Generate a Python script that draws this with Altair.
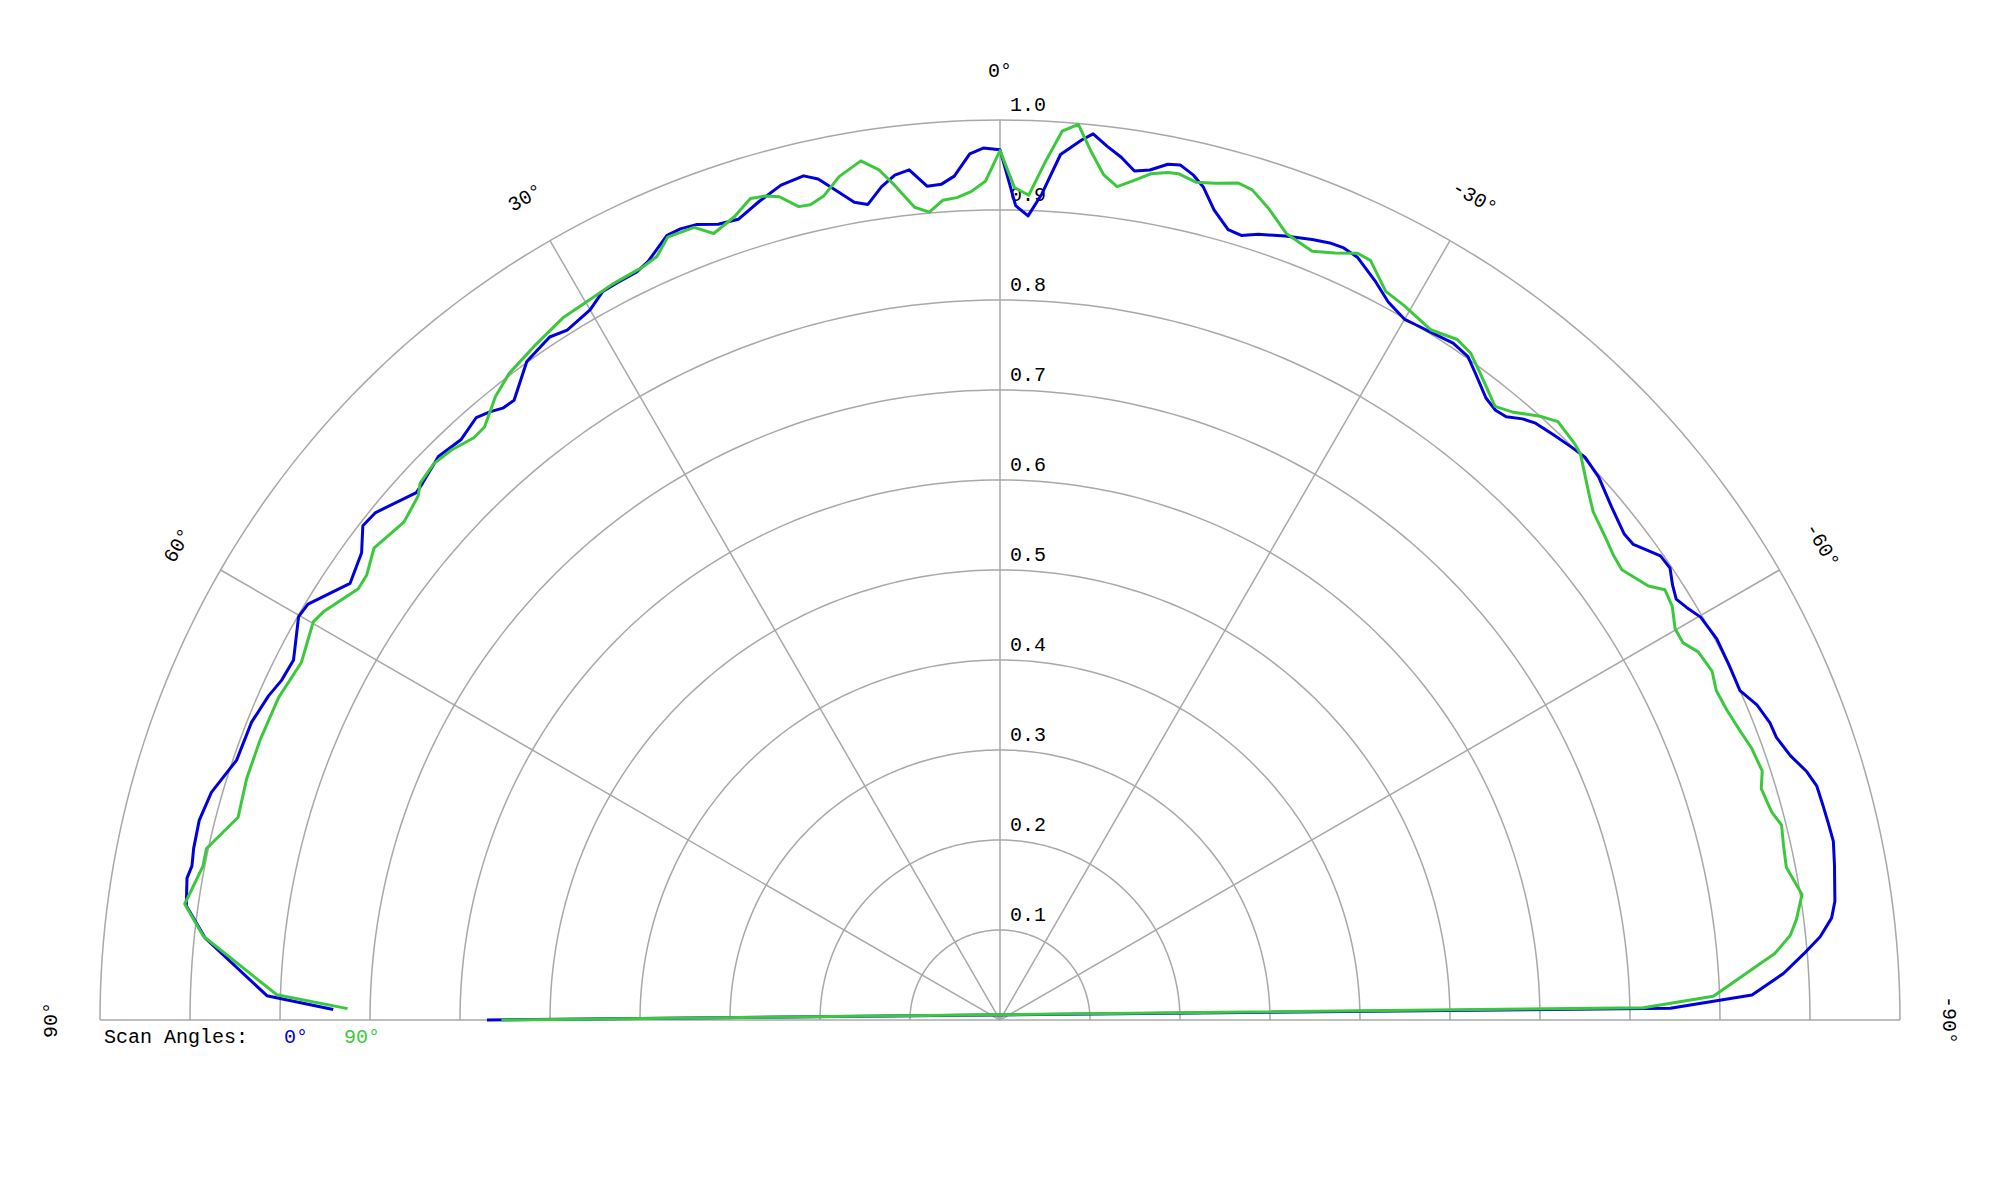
import altair as alt
import pandas as pd
import numpy as np

# ---------------- data ----------------
series_names = ["0°", "90°"]
series_colors = ["#0000dd", "#3cc83c"]

blue_theta = [90, -89.0, -88.1, -86.6, -85.3, -84.2, -83.0, -81.9, -79.5, -77.9, -76.7,
              -75.4, -74.0, -72.9, -71.5, -70.0, -68.9, -67.4, -66.0, -64.1, -62.0,
              -60.1, -59.0, -58.1, -57.1, -56.0, -54.9, -53.1, -52.1, -50.0, -47.8,
              -46.1, -44.9, -43.4, -41.9, -41.0, -40.0, -39.1, -38.0, -36.3, -35.2,
              -33.8, -32.2, -30.8, -30.0, -28.4, -26.9, -25.1, -24.0, -23.0, -21.8,
              -20.0, -18.2, -17.1, -16.1, -14.8, -13.7, -12.9, -11.9, -11.1, -10.0,
              -9.0, -8.0, -7.0, -6.0, -5.3, -4.0, -2.9, -2.0, -1.1, 0.0,
              1.1, 2.0, 3.1, 4.0, 5.0, 6.1, 7.1, 8.1, 9.2, 10.1,
              11.4, 12.2, 13.1, 14.7, 16.4, 18.1, 19.5, 20.9, 22.0, 23.0,
              24.9, 25.9, 27.5, 28.6, 30.0, 32.1, 33.4, 35.7, 38.1, 39.1,
              40.0, 41.0, 42.9, 44.9, 47.1, 47.9, 50.9, 52.2, 53.8, 56.1,
              59.0, 60.1, 63.0, 64.7, 66.1, 68.3, 71.2, 73.9, 76.0, 78.0,
              79.2, 80.1, 82.0, 84.1, 88.1, 89.1]
blue_r = [0.570, 0.745, 0.836, 0.872, 0.896, 0.916, 0.931, 0.937, 0.943, 0.947, 0.946,
          0.945, 0.944, 0.938, 0.926, 0.918, 0.917, 0.911, 0.900, 0.901, 0.902,
          0.898, 0.890, 0.885, 0.890, 0.898, 0.897, 0.880, 0.879, 0.887, 0.898,
          0.902, 0.899, 0.895, 0.891, 0.885, 0.875, 0.873, 0.877, 0.892, 0.902,
          0.905, 0.902, 0.900, 0.899, 0.907, 0.921, 0.936, 0.939, 0.938, 0.934,
          0.927, 0.919, 0.912, 0.914, 0.931, 0.953, 0.963, 0.971, 0.969, 0.959,
          0.955, 0.968, 0.978, 0.990, 0.982, 0.964, 0.919, 0.894, 0.905, 0.967,
          0.969, 0.963, 0.939, 0.931, 0.930, 0.950, 0.946, 0.935, 0.918, 0.923,
          0.943, 0.956, 0.963, 0.959, 0.948, 0.936, 0.938, 0.946, 0.948, 0.947,
          0.929, 0.924, 0.923, 0.922, 0.911, 0.905, 0.909, 0.901, 0.875, 0.876,
          0.882, 0.887, 0.880, 0.884, 0.876, 0.874, 0.894, 0.896, 0.879, 0.870,
          0.897, 0.899, 0.881, 0.883, 0.889, 0.895, 0.896, 0.912, 0.917, 0.916,
          0.914, 0.917, 0.913, 0.888, 0.815, 0.741]

green_theta = [90, -88.9, -88.1, -85.1, -83.9, -82.8, -81.1, -79.0, -77.4, -76.0, -74.9,
               -73.1, -71.9, -70.1, -68.7, -66.9, -65.3, -63.9, -62.2, -61.1, -59.9,
               -58.4, -57.1, -56.2, -54.1, -52.9, -51.5, -49.4, -48.4, -45.7, -45.0,
               -43.0, -41.8, -40.2, -38.9, -36.6, -35.2, -33.9, -32.0, -29.5, -27.9,
               -26.0, -25.0, -23.6, -22.1, -20.0, -18.3, -16.9, -15.9, -14.4, -13.2,
               -11.9, -11.2, -10.1, -9.0, -8.0, -7.0, -6.0, -5.0, -4.0, -3.0,
               -2.0, -1.0, 0.0, 1.0, 2.0, 3.0, 4.0, 5.0, 6.0, 7.2,
               8.1, 9.2, 10.8, 12.1, 13.1, 13.9, 15.0, 15.9, 16.9, 18.3,
               20.0, 21.1, 23.0, 24.2, 25.4, 27.8, 29.7, 31.9, 34.7, 37.2,
               39.0, 41.0, 42.1, 43.9, 45.5, 47.2, 48.0, 50.1, 53.0, 54.9,
               56.1, 58.9, 59.9, 62.9, 65.9, 69.2, 72.2, 75.1, 77.8, 79.1,
               81.9, 84.0, 88.0, 89.0]
green_r = [0.554, 0.715, 0.793, 0.864, 0.883, 0.892, 0.902, 0.890, 0.892, 0.895, 0.888,
           0.884, 0.891, 0.888, 0.883, 0.878, 0.876, 0.881, 0.877, 0.867, 0.867,
           0.877, 0.880, 0.867, 0.853, 0.855, 0.860, 0.868, 0.876, 0.901, 0.904,
           0.909, 0.900, 0.884, 0.876, 0.895, 0.907, 0.911, 0.904, 0.912, 0.916,
           0.939, 0.940, 0.930, 0.922, 0.930, 0.950, 0.964, 0.967, 0.960, 0.956,
           0.961, 0.960, 0.955, 0.944, 0.935, 0.946, 0.970, 0.999, 0.990, 0.954,
           0.917, 0.925, 0.966, 0.932, 0.921, 0.915, 0.913, 0.901, 0.908, 0.935,
           0.954, 0.967, 0.954, 0.936, 0.930, 0.931, 0.947, 0.952, 0.954, 0.940,
           0.930, 0.944, 0.945, 0.930, 0.926, 0.924, 0.921, 0.919, 0.910, 0.902,
           0.891, 0.873, 0.872, 0.879, 0.882, 0.878, 0.870, 0.863, 0.871, 0.860,
           0.859, 0.878, 0.882, 0.872, 0.878, 0.879, 0.879, 0.876, 0.902, 0.902,
           0.915, 0.890, 0.804, 0.725]

ring_values = [0.1, 0.2, 0.3, 0.4, 0.5, 0.6, 0.7, 0.8, 0.9, 1.0]
ring_labels = ["0.1", "0.2", "0.3", "0.4", "0.5", "0.6", "0.7", "0.8", "0.9", "1.0"]
spoke_angles = [-90, -60, -30, 0, 30, 60, 90]
spoke_labels = ["-90°", "-60°", "-30°", "0°", "30°", "60°", "90°"]
legend_title = "Scan Angles:"

# ---------------- tables ----------------
curves = pd.concat([
    pd.DataFrame({"series": series_names[0], "idx": range(len(blue_theta)),
                  "theta": blue_theta, "r": blue_r}),
    pd.DataFrame({"series": series_names[1], "idx": range(len(green_theta)),
                  "theta": green_theta, "r": green_r}),
], ignore_index=True)

arc_steps = np.arange(-90, 91, 1)
rings = pd.DataFrame([{"ring": rv, "theta": float(a), "r": rv}
                      for rv in ring_values for a in arc_steps])
ring_lab = pd.DataFrame({"r": ring_values, "label": ring_labels})
spokes = pd.DataFrame({"theta": spoke_angles, "label": spoke_labels})

W, H = 1984, 1184
PX = 900.0
xdom = [-992 / PX, (W - 992) / PX]
ydom = [-(H - 1012) / PX, 1012 / PX]
xs = alt.Scale(domain=xdom, nice=False, zero=False)
ys = alt.Scale(domain=ydom, nice=False, zero=False)

FONT = "Liberation Mono"
GRID = "#a8a8a8"
LABEL_R = 1.057

to_xy = dict(x="-datum.r*sin(datum.theta*PI/180)", y="datum.r*cos(datum.theta*PI/180)")

ring_layer = alt.Chart(rings).transform_calculate(**to_xy).mark_line(
    color=GRID, strokeWidth=1.5
).encode(
    x=alt.X("x:Q", scale=xs, axis=None),
    y=alt.Y("y:Q", scale=ys, axis=None),
    detail="ring:N",
    order="theta:Q",
)

spoke_layer = alt.Chart(spokes).transform_calculate(
    x2="-sin(datum.theta*PI/180)", y2="cos(datum.theta*PI/180)", x0="0", y0="0"
).mark_rule(color=GRID, strokeWidth=1.5).encode(
    x=alt.X("x0:Q", scale=xs, axis=None),
    y=alt.Y("y0:Q", scale=ys, axis=None),
    x2="x2:Q",
    y2="y2:Q",
)

ring_text = alt.Chart(ring_lab).transform_calculate(x0="0").mark_text(
    font=FONT, fontSize=20, align="left", baseline="middle", dx=10, dy=-15, color="black"
).encode(
    x=alt.X("x0:Q", scale=xs, axis=None),
    y=alt.Y("r:Q", scale=ys, axis=None),
    text="label:N",
)

spoke_text = alt.Chart(spokes).transform_calculate(
    x=f"-{LABEL_R}*sin(datum.theta*PI/180)",
    y=f"{LABEL_R}*cos(datum.theta*PI/180)",
    rot="(360 - datum.theta) % 360",
).mark_text(
    font=FONT, fontSize=20, align="center", baseline="middle", dy=2, color="black"
).encode(
    x=alt.X("x:Q", scale=xs, axis=None),
    y=alt.Y("y:Q", scale=ys, axis=None),
    angle=alt.Angle("rot:Q", scale=None),
    text="label:N",
)

curve_layer = alt.Chart(curves).transform_calculate(**to_xy).mark_line(
    strokeWidth=3, strokeJoin="round"
).encode(
    x=alt.X("x:Q", scale=xs, axis=None),
    y=alt.Y("y:Q", scale=ys, axis=None),
    color=alt.Color("series:N", scale=alt.Scale(domain=series_names, range=series_colors),
                    legend=None),
    order="idx:Q",
)

legend_head = alt.Chart(pd.DataFrame({"t": [legend_title]})).transform_calculate(
    x0="-1", y0="0"
).mark_text(font=FONT, fontSize=20, align="left", baseline="middle", dx=4, dy=17,
            color="black").encode(
    x=alt.X("x0:Q", scale=xs, axis=None),
    y=alt.Y("y0:Q", scale=ys, axis=None),
    text="t:N",
)

legend_items = []
for i, (nm, col) in enumerate(zip(series_names, series_colors)):
    legend_items.append(
        alt.Chart(pd.DataFrame({"t": [nm]})).transform_calculate(x0="-1", y0="0")
        .mark_text(font=FONT, fontSize=20, align="left", baseline="middle",
                   dx=184 + 60 * i, dy=17, color=col)
        .encode(x=alt.X("x0:Q", scale=xs, axis=None),
                y=alt.Y("y0:Q", scale=ys, axis=None),
                text="t:N")
    )

chart = alt.layer(
    ring_layer, spoke_layer, ring_text, spoke_text, curve_layer, legend_head, *legend_items
).properties(
    width=W, height=H, autosize=alt.AutoSizeParams(type="none"),
    padding={"left": 0, "right": 0, "top": 0, "bottom": 0},
).configure_view(stroke=None)

chart.save("out.html", embed_options={"renderer": "svg", "actions": False})
